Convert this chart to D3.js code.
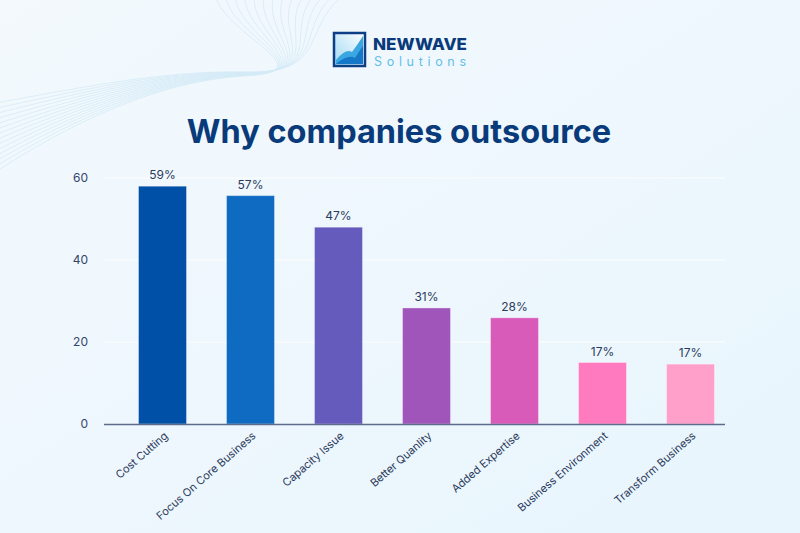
<!DOCTYPE html>
<html><head><meta charset="utf-8">
<script src="https://cdn.jsdelivr.net/npm/d3@7"></script>
<style>html,body{margin:0;padding:0;}body{width:800px;height:533px;overflow:hidden;}</style>
</head><body>
<svg id="chart" width="800" height="533"></svg>
<script>
const categories = ["Cost Cutting","Focus On Core Business","Capacity Issue","Better Quanlity","Added Expertise","Business Environment","Transform Business"];
const barValues = [58, 55.7, 48, 28.3, 25.9, 15, 14.6];
const valueLabels = ["59%","57%","47%","31%","28%","17%","17%"];
const barColors = ["#0050a8","#0f6bc2","#655bbd","#a055bb","#d85ab9","#ff7abf","#ffa0cb"];
const yTicks = [0,20,40,60];
const title = "Why companies outsource";

const svg = d3.select("#chart");
const defs = svg.append("defs");
const bg = defs.append("linearGradient").attr("id","bg").attr("x1","0").attr("y1","0").attr("x2","1").attr("y2","1");
bg.append("stop").attr("offset","0").attr("stop-color","#f3f9fd");
bg.append("stop").attr("offset","1").attr("stop-color","#e8f5fd");
svg.append("rect").attr("width",800).attr("height",533).attr("fill","url(#bg)");

// decorative waves
const waves = svg.append("g").attr("fill","none").attr("stroke","#cfe8f6").attr("stroke-width",0.8).attr("opacity",0.85);
for (let i = 0; i < 14; i++) {
  waves.append("path").attr("d",
    `M -10 ${104 + i*5.5} C 70 ${90 + i*2.5}, 160 ${70 + i*0.8}, 245 ${72 + i*0.3} S ${300 - i*6} ${28 + i*0.5}, ${345 - i*10} -6`);
}

// logo
const logo = svg.append("g");
const lg = defs.append("linearGradient").attr("id","lg").attr("x1","0").attr("y1","1").attr("x2","1").attr("y2","0");
lg.append("stop").attr("offset","0").attr("stop-color","#9fd8f3");
lg.append("stop").attr("offset","1").attr("stop-color","#ffffff");
logo.append("rect").attr("x",334).attr("y",33).attr("width",31).attr("height",33).attr("fill","url(#lg)").attr("stroke","#0c3f86").attr("stroke-width",2.5);
logo.append("path").attr("d","M336 60 Q346 48 352 52 Q358 44 363 36 L363 64 L336 64 Z").attr("fill","#3aa7e0");
logo.append("path").attr("d","M336 64 Q348 54 355 58 Q360 50 363 46 L363 64 Z").attr("fill","#1577c8");
logo.append("text").attr("x",373).attr("y",49.5).attr("font-family","Inter, sans-serif").attr("font-weight",800).attr("font-size",16)
  .attr("textLength",94).attr("lengthAdjust","spacingAndGlyphs").attr("fill","#0a3a7c").text("NEWWAVE");
logo.append("text").attr("x",374).attr("y",65.5).attr("font-family","Inter, sans-serif").attr("font-weight",400).attr("font-size",12.5)
  .attr("textLength",92).attr("fill","#62bfe8").text("Solutions");

// title
svg.append("text").attr("x",399).attr("y",143).attr("text-anchor","middle")
  .attr("font-family","Inter, sans-serif").attr("font-weight",700).attr("font-size",32.5)
  .attr("fill","#093b7b").text(title);

const x = d3.scaleBand().domain(categories).range([118.5, 734.5]).paddingInner(0.455).paddingOuter(0.2275);
const y = d3.scaleLinear().domain([0, 60]).range([424, 178]);

// grid
svg.append("g").selectAll("line").data(yTicks.filter(d => d > 0)).join("line")
  .attr("x1",104).attr("x2",725).attr("y1",d => y(d)).attr("y2",d => y(d))
  .attr("stroke","#ffffff").attr("stroke-width",1.2).attr("opacity",0.9);

// y axis
const yAxis = svg.append("g").attr("transform","translate(104,0)")
  .call(d3.axisLeft(y).tickValues(yTicks).tickSize(0).tickPadding(16));
yAxis.select(".domain").remove();
yAxis.selectAll("text").attr("font-family","Inter, sans-serif").attr("font-size",12).attr("fill","#34446a");

// bars
svg.append("g").selectAll("rect").data(categories).join("rect")
  .attr("x",d => x(d)).attr("width",x.bandwidth())
  .attr("y",(d,i) => y(barValues[i])).attr("height",(d,i) => y(0) - y(barValues[i]))
  .attr("fill",(d,i) => barColors[i]).attr("stroke","#ffffff").attr("stroke-opacity",0.35).attr("stroke-width",1);

// value labels
svg.append("g").selectAll("text").data(categories).join("text")
  .attr("x",d => x(d) + x.bandwidth()/2).attr("y",(d,i) => y(barValues[i]) - 7)
  .attr("text-anchor","middle").attr("font-family","Inter, sans-serif").attr("font-size",12)
  .attr("fill","#2c3a5c").text((d,i) => valueLabels[i]);

// x axis
const xAxis = svg.append("g").attr("transform","translate(0,424)")
  .call(d3.axisBottom(x).tickSize(0).tickPadding(0));
xAxis.select(".domain").remove();
svg.append("line").attr("x1",104).attr("x2",725).attr("y1",424.5).attr("y2",424.5).attr("stroke","#5d6b8c").attr("stroke-width",1.5);
xAxis.selectAll("text")
  .attr("font-family","Inter, sans-serif").attr("font-size",11).attr("fill","#2c3a5c")
  .attr("text-anchor","end").attr("dy",0)
  .attr("transform","translate(6,13) rotate(-41)");
</script>
</body></html>
